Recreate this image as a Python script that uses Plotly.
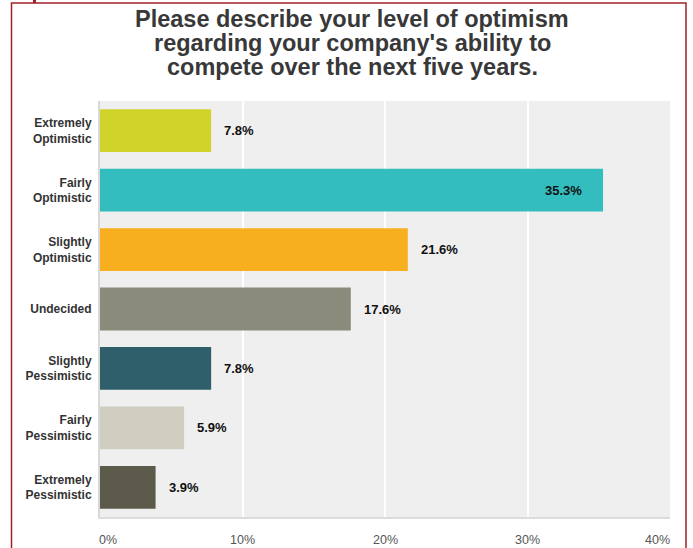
import plotly.graph_objects as go

categories = ["Extremely<br>Optimistic", "Fairly<br>Optimistic", "Slightly<br>Optimistic",
              "Undecided", "Slightly<br>Pessimistic", "Fairly<br>Pessimistic", "Extremely<br>Pessimistic"]
values = [7.8, 35.3, 21.6, 17.6, 7.8, 5.9, 3.9]
colors = ["#D0D42A", "#33BDBF", "#F7AF1F", "#8A8B7A", "#2E5F6B", "#CFCDBF", "#5C5A4B"]
x_ticks = [0, 10, 20, 30, 40]
x_tick_labels = ["0%", "10%", "20%", "30%", "40%"]
title_lines = ["Please describe your level of optimism",
               "regarding your company's ability to",
               "compete over the next five years."]

FONT = "Liberation Sans, Arial, sans-serif"
W, H = 693, 548
plot_left, plot_right, plot_top, plot_bottom = 100, 670, 101, 517
pw, ph = plot_right - plot_left, plot_bottom - plot_top

def px_x(x):
    return (x - plot_left) / pw

def px_y(y):
    return (plot_bottom - y) / ph

fig = go.Figure(go.Bar(
    y=categories, x=values, orientation="h",
    marker=dict(color=colors, line=dict(width=0)),
    hoverinfo="skip",
))

annotations = []
for c, v in zip(categories, values):
    inside = v > 30
    annotations.append(dict(
        x=v, y=c, xref="x", yref="y", text=f"<b>{v:.1f}%</b>", showarrow=False,
        xanchor="right" if inside else "left", xshift=-19 if inside else 11,
        font=dict(family=FONT, size=13, color="#111"),
    ))
for t, lab in zip(x_ticks, x_tick_labels):
    if t == x_ticks[0]:
        anchor, shift = "left", -3
    elif t == x_ticks[-1]:
        anchor, shift = "right", 2
    else:
        anchor, shift = "center", 0
    annotations.append(dict(
        x=t, y=px_y(540), xref="x", yref="paper", text=lab, showarrow=False,
        xanchor=anchor, yanchor="middle", xshift=shift,
        font=dict(family=FONT, size=12.5, color="#555"),
    ))
for i, line in enumerate(title_lines):
    annotations.append(dict(
        x=px_x(352), y=px_y(19 + 24 * i), xref="paper", yref="paper",
        text=f"<b>{line}</b>", showarrow=False, xanchor="center", yanchor="middle",
        font=dict(family=FONT, size=23.5, color="#383838"),
    ))

fig.update_layout(
    width=W, height=H,
    margin=dict(l=plot_left, r=W - plot_right, t=plot_top, b=H - plot_bottom),
    paper_bgcolor="white", plot_bgcolor="#EFEFEF",
    showlegend=False,
    bargap=0.28,
    annotations=annotations,
    font=dict(family=FONT),
    xaxis=dict(range=[0, 40], tickvals=x_ticks, showticklabels=False,
               showgrid=True, gridcolor="white", gridwidth=1.5, zeroline=False,
               showline=True, linecolor="#DCDCDC", linewidth=2, fixedrange=True),
    yaxis=dict(autorange="reversed", showgrid=False, zeroline=False,
               showline=True, linecolor="#D8D8D8", linewidth=2,
               ticks="outside", ticklen=4, tickcolor="rgba(0,0,0,0)",
               tickfont=dict(size=12, color="#333", family=FONT),
               tickvals=categories, ticktext=[f"<b>{c}</b>" for c in categories],
               fixedrange=True),
    shapes=[
        dict(type="rect", xref="paper", yref="paper",
             x0=px_x(11.5), x1=px_x(686),
             y0=px_y(560), y1=px_y(3),
             line=dict(color="#A3202A", width=1.5), fillcolor="rgba(0,0,0,0)", layer="below"),
        dict(type="rect", xref="paper", yref="paper",
             x0=px_x(33), x1=px_x(36),
             y0=px_y(3), y1=px_y(0),
             line=dict(width=0), fillcolor="#A3202A"),
    ],
)

fig.write_html("out.html", config={"displayModeBar": False},
               post_script="document.body.style.margin='0';")
